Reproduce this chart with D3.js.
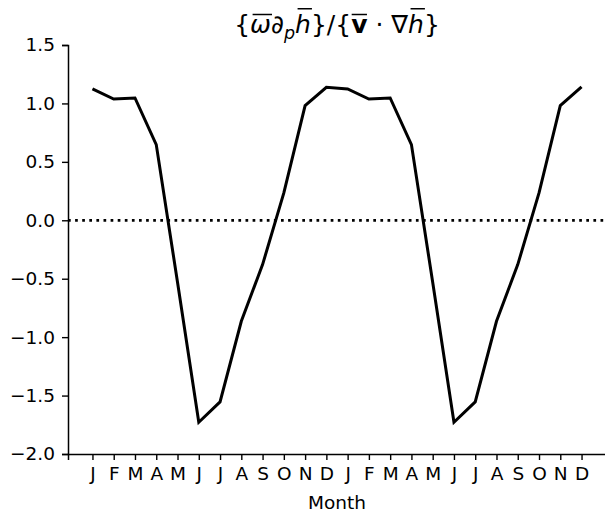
<!DOCTYPE html>
<html>
<head>
<meta charset="utf-8">
<script src="https://cdn.jsdelivr.net/npm/d3@7"></script>
<style>
  body { margin: 0; background: #fff; }
  svg { display: block; font-family: "DejaVu Sans", sans-serif; }
</style>
</head>
<body>
<div id="chart"></div>
<script>
// month labels along the x axis (two years)
var monthLabels = ["J","F","M","A","M","J","J","A","S","O","N","D",
                   "J","F","M","A","M","J","J","A","S","O","N","D"];
// ratio values
var ratioValues = [1.124, 1.038, 1.047, 0.648, -0.53, -1.728, -1.554, -0.864, -0.379, 0.234, 0.981, 1.138,
                   1.124, 1.038, 1.047, 0.648, -0.53, -1.728, -1.554, -0.864, -0.379, 0.234, 0.981, 1.142];
var yTicks = [1.5, 1.0, 0.5, 0.0, -0.5, -1.0, -1.5, -2.0];

var W = 605, H = 512;
var margin = { top: 45, left: 68, bottom: 58, right: -1 };
var width = W - margin.left - margin.right;
var height = H - margin.top - margin.bottom;

var svg = d3.select("#chart").append("svg")
    .attr("width", W)
    .attr("height", H);

var g = svg.append("g")
    .attr("transform", "translate(" + margin.left + "," + margin.top + ")");

var n = ratioValues.length;
var pad = 0.05 * (n - 1);

var xScale = d3.scaleLinear()
    .domain([-pad, n - 1 + pad])
    .range([0, width]);

var yScale = d3.scaleLinear()
    .domain([-2.0, 1.5])
    .range([height, 0]);

// zero line
g.append("line")
    .attr("x1", 0).attr("x2", width)
    .attr("y1", yScale(0)).attr("y2", yScale(0))
    .attr("stroke", "#000")
    .attr("stroke-width", 2.7)
    .attr("stroke-dasharray", "2.7,4.4");

// data line
var line = d3.line()
    .x(function (d, i) { return xScale(i); })
    .y(function (d) { return yScale(d); });

g.append("path")
    .datum(ratioValues)
    .attr("fill", "none")
    .attr("stroke", "#000")
    .attr("stroke-width", 3)
    .attr("stroke-linejoin", "miter")
    .attr("d", line);

// axes
var xAxis = d3.axisBottom(xScale)
    .tickValues(d3.range(n))
    .tickFormat(function (d) { return monthLabels[d]; })
    .tickSizeOuter(0)
    .tickSize(6)
    .tickPadding(7);

var yAxis = d3.axisLeft(yScale)
    .tickValues(yTicks)
    .tickFormat(function (d) { return d3.format(".1f")(d).replace("-", "\u2212"); })
    .tickSizeOuter(0)
    .tickSize(6)
    .tickPadding(7);

var gx = g.append("g")
    .attr("transform", "translate(0," + height + ")")
    .call(xAxis);

var gy = g.append("g")
    .call(yAxis);

[gx, gy].forEach(function (a) {
    a.selectAll("path.domain").attr("stroke", "#000").attr("stroke-width", 1.5);
    a.selectAll(".tick line").attr("stroke", "#000").attr("stroke-width", 1.4);
    a.selectAll(".tick text")
        .attr("fill", "#000")
        .style("font-family", "DejaVu Sans")
        .style("font-size", "18.5px");
});

// x label
g.append("text")
    .attr("x", width / 2)
    .attr("y", height + 55)
    .attr("text-anchor", "middle")
    .style("font-size", "18.5px")
    .text("Month");

// title built from pieces, some with overbars
var fs = 25;
var pieces = [
    { t: "{" },
    { t: "\u03c9", italic: true, bar: -0.74 },
    { t: "\u2202" },
    { t: "p", italic: true, sub: true },
    { t: "h", italic: true, bar: -0.97 },
    { t: "}/{" },
    { t: "v", bold: true, bar: -0.74 },
    { t: " \u00b7 \u2207" },
    { t: "h", italic: true, bar: -0.97 },
    { t: "}" }
];

var title = svg.append("g");
var cx = 0;
pieces.forEach(function (p) {
    var t = title.append("text")
        .attr("x", cx)
        .attr("y", p.sub ? fs * 0.22 : 0)
        .style("font-size", (p.sub ? fs * 0.7 : fs) + "px")
        .style("font-style", p.italic ? "italic" : "normal")
        .style("font-weight", p.bold ? "bold" : "normal")
        .style("white-space", "pre")
        .text(p.t);
    var w = t.node().getComputedTextLength();
    if (p.bar) {
        title.append("line")
            .attr("x1", cx + (p.italic ? 2.5 : 0.5)).attr("x2", cx + w + (p.italic ? 1 : -0.5))
            .attr("y1", p.bar * fs).attr("y2", p.bar * fs)
            .attr("stroke", "#000").attr("stroke-width", 1.5);
    }
    cx += w;
});
title.attr("transform", "translate(" + (margin.left + width / 2 - cx / 2) + ",33)");
</script>
</body>
</html>
